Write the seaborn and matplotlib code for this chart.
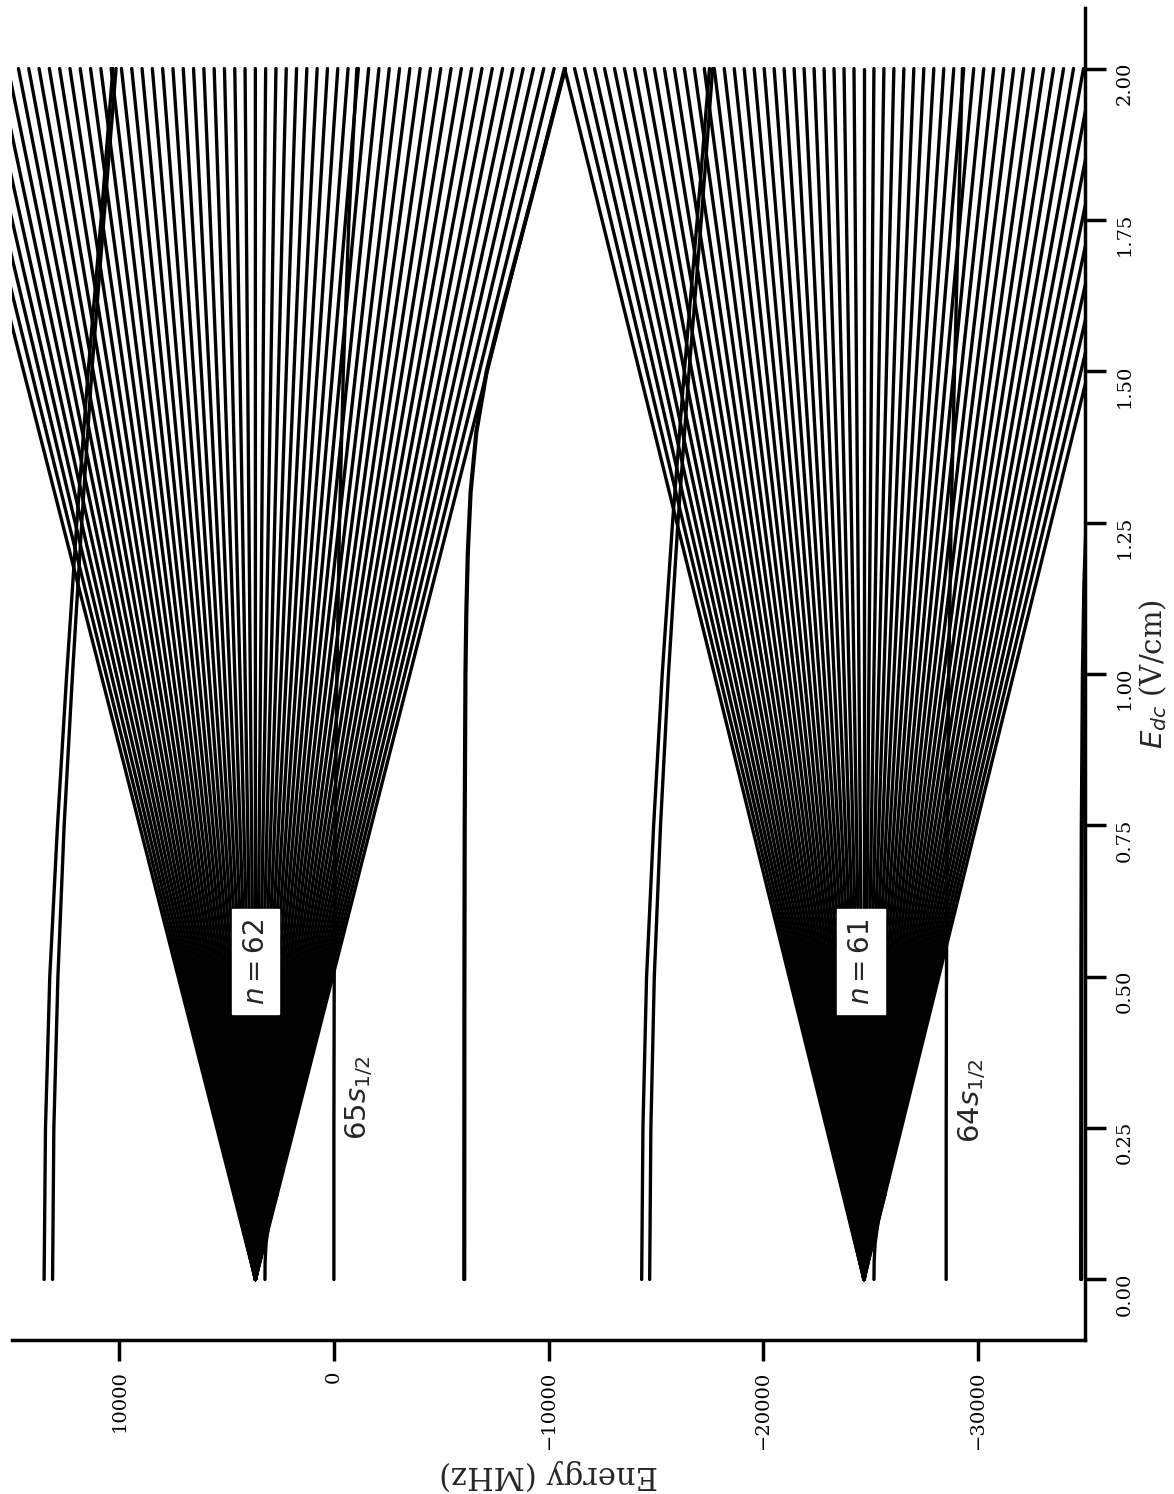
import numpy as np
import pandas as pd
import matplotlib
matplotlib.use("Agg")
import matplotlib.pyplot as plt
import seaborn as sns

# ---------------- data ----------------
# Field axis (V/cm) and energy axis (MHz)
field_ticks = [0.0, 0.25, 0.5, 0.75, 1.0, 1.25, 1.5, 1.75, 2.0]
energy_ticks = [10000, 0, -10000, -20000, -30000]

# hydrogenic manifolds: zero-field energy and energy of every Stark line at 2.0 V/cm
fan_fields = [0.0, 2.0]
n62_zero_field = 3655
n62_energy_at_2 = [
    -10740, -10260, -9780, -9300, -8820, -8340, -7860, -7380, -6900, -6420,
    -5940, -5460, -4980, -4500, -4020, -3540, -3060, -2580, -2100, -1620,
    -1140, -660, -180, 300, 780, 1260, 1740, 2220, 2700, 3180,
    3660, 4140, 4620, 5100, 5580, 6060, 6540, 7020, 7500, 7980,
    8460, 8940, 9420, 9900, 10380, 10860, 11340, 11820, 12300, 12780,
    13260, 13740, 14220, 14700, 15180, 15660, 16140, 16620, 17100, 17580, 18060,
]
n61_zero_field = -24700
n61_energy_at_2 = [
    -38650, -38185, -37720, -37255, -36790, -36325, -35860, -35395, -34930, -34465,
    -34000, -33535, -33070, -32605, -32140, -31675, -31210, -30745, -30280, -29815,
    -29350, -28885, -28420, -27955, -27490, -27025, -26560, -26095, -25630, -25165,
    -24700, -24235, -23770, -23305, -22840, -22375, -21910, -21445, -20980, -20515,
    -20050, -19585, -19120, -18655, -18190, -17725, -17260, -16795, -16330, -15865,
    -15400, -14935, -14470, -14005, -13540, -13075, -12610, -12145, -11680, -11215, -10750,
]

# low-l states (field, energy)
grid_fields = [0.0, 0.25, 0.5, 0.75, 1.0, 1.25, 1.5, 1.75, 2.0]
p_upper_a = [13504, 13440, 13240, 12880, 12450, 11980, 11450, 10850, 10300]
p_upper_b = [13110, 13050, 12860, 12570, 12180, 11750, 11280, 10720, 10150]
p_lower_a = [-14342, -14400, -14570, -14900, -15300, -15780, -16330, -16930, -17500]
p_lower_b = [-14714, -14770, -14930, -15220, -15590, -16030, -16550, -17120, -17650]
s_upper = [0, 0, -15, -60, -140, -260, -440, -700, -1070]
s_lower = [-28530, -28532, -28545, -28580, -28650, -28760, -28920, -29100, -29290]

d_upper_fields = [0.0, 0.5, 0.75, 1.0, 1.1, 1.2, 1.3, 1.4, 1.5, 1.6, 1.8, 2.0]
d_upper_a = [-6054, -6062, -6075, -6110, -6150, -6220, -6350, -6620, -7100, -7800, -9300, -10770]
d_upper_b = [-6094, -6102, -6115, -6150, -6190, -6260, -6390, -6660, -7140, -7840, -9330, -10790]

d_lower_fields = [0.0, 0.5, 0.75, 1.0, 1.15, 1.25]
d_lower_a = [-34800, -34810, -34830, -34880, -34950, -35050]
d_lower_b = [-34840, -34850, -34870, -34920, -34990, -35090]

f_fields = [0.0, 0.03, 0.06, 0.1, 0.14]
f_upper = [3213, 3205, 3160, 3010, 2650]
f_lower = [-25166, -25175, -25220, -25380, -25680]

manifold_labels = ["$n = 62$", "$n = 61$"]
manifold_label_energy = [3650, -24560]
manifold_label_field = 0.525
state_labels = ["$65s_{1/2}$", "$64s_{1/2}$"]
state_label_energy = [-420, -29010]
state_label_field = [0.23, 0.225]

# ---------------- build long table ----------------
rows = []
sid = 0
for e0, ends in ((n62_zero_field, n62_energy_at_2), (n61_zero_field, n61_energy_at_2)):
    for e_end in ends:
        for f, e in zip(fan_fields, (e0, e_end)):
            rows.append((sid, f, e))
        sid += 1
curves = [
    (grid_fields, p_upper_a), (grid_fields, p_upper_b),
    (grid_fields, p_lower_a), (grid_fields, p_lower_b),
    (grid_fields, s_upper), (grid_fields, s_lower),
    (d_upper_fields, d_upper_a), (d_upper_fields, d_upper_b),
    (d_lower_fields, d_lower_a), (d_lower_fields, d_lower_b),
    (f_fields, f_upper), (f_fields, f_lower),
]
for fs, es in curves:
    for f, e in zip(fs, es):
        rows.append((sid, f, e))
    sid += 1
df = pd.DataFrame(rows, columns=["state", "field", "energy"])

# ---------------- plot ----------------
sns.set_style("ticks")
plt.rcParams["font.family"] = ["DejaVu Serif"]
plt.rcParams["mathtext.fontset"] = "dejavusans"

fig = plt.figure(figsize=(11.74, 14.94), dpi=100)
ax = fig.add_axes([12 / 1174, 154 / 1494, 1073 / 1174, 1332 / 1494])

sns.lineplot(data=df, x="energy", y="field", units="state", estimator=None,
             sort=False, color="black", linewidth=2.4, ax=ax, legend=False)

ax.set_xlim(15000, -35000)
ax.set_ylim(-0.1, 2.1)
ax.set_xticks(energy_ticks)
ax.set_yticks(field_ticks)

for s in ("left", "top"):
    ax.spines[s].set_visible(False)
for s in ("right", "bottom"):
    ax.spines[s].set_linewidth(2.5)
    ax.spines[s].set_color("black")

ax.yaxis.tick_right()
ax.yaxis.set_label_position("right")
ax.tick_params(axis="both", direction="out", length=15, width=2.5,
               labelsize=14, pad=7, colors="black")
ax.tick_params(axis="x", labelrotation=90)
ax.tick_params(axis="y", labelrotation=90)

ax.set_xlabel("Energy (MHz)", fontsize=22, rotation=180, labelpad=7)
ax.set_ylabel("$E_{dc}$ (V/cm)", fontsize=21, rotation=90, labelpad=3)

for lab, e in zip(manifold_labels, manifold_label_energy):
    ax.text(e, manifold_label_field, lab, rotation=90, ha="center", va="center",
            fontsize=20, family=["DejaVu Sans"],
            bbox=dict(boxstyle="square,pad=0.35", facecolor="white", edgecolor="white"))
for lab, e, f in zip(state_labels, state_label_energy, state_label_field):
    ax.text(e, f, lab, rotation=90, ha="left", va="bottom", fontsize=21,
            family=["DejaVu Sans"])

fig.savefig("out.png", dpi=100)
